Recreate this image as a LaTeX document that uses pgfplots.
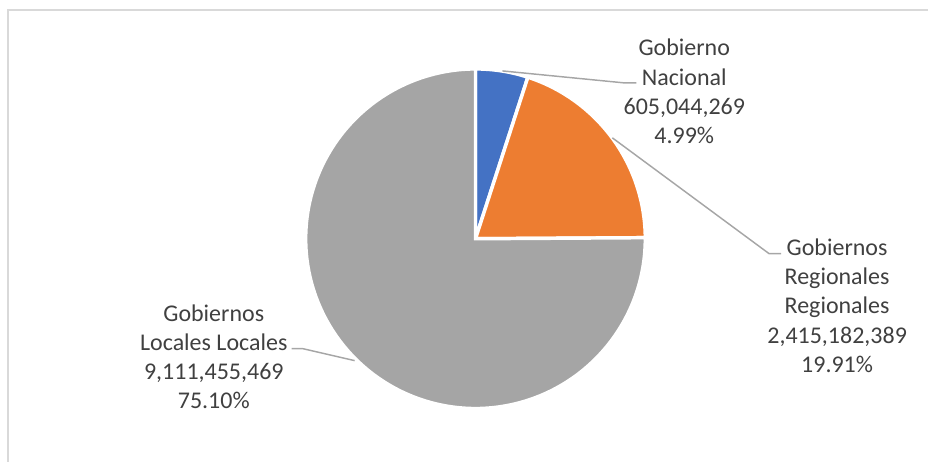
\documentclass[border=0pt]{standalone}
\usepackage{pgfplots}
\usepackage{pgfplotstable}
\pgfplotsset{compat=1.18}
\usepackage{fontspec}
\setmainfont{Carlito}
\definecolor{cBlue}{HTML}{4472C4}
\definecolor{cOrange}{HTML}{ED7D31}
\definecolor{cGray}{HTML}{A5A5A5}
\definecolor{cText}{HTML}{404040}
\definecolor{cLeader}{HTML}{A6A6A6}
\definecolor{cFrame}{HTML}{D9D9D9}
\pgfplotstableread{
name pct value
Nacional 4.99 605044269
Regionales 19.91 2415182389
Locales 75.10 9111455469
}\piedata
\pgfplotstablegetelem{0}{pct}\of\piedata
\pgfmathsetmacro{\aB}{90-3.6*\pgfplotsretval}
\pgfplotstablegetelem{1}{pct}\of\piedata
\pgfmathsetmacro{\aC}{\aB-3.6*\pgfplotsretval}
\pgfplotstablegetelem{2}{pct}\of\piedata
\pgfmathsetmacro{\aD}{\aC-3.6*\pgfplotsretval}
\begin{document}%
\begin{tikzpicture}
\begin{axis}[
  x=0.75pt, y=0.75pt,
  xmin=0, xmax=929, ymin=0, ymax=462,
  scale only axis, hide axis, clip=false,
]
% page extent
\path (0,0) rectangle (929,462);
% frame
\draw[cFrame, line width=1.5pt] (8.5,0) -- (8.5,451.5) -- (929,451.5);
% wedges
\addplot[fill=cBlue, draw=white, line width=2.6pt, domain=\aB:90, samples=30, variable=\t]
  ({476+170*cos(\t)},{223+170*sin(\t)}) -- (476,223) -- cycle;
\addplot[fill=cOrange, draw=white, line width=2.6pt, domain=\aC:\aB, samples=60, variable=\t]
  ({476+170*cos(\t)},{223+170*sin(\t)}) -- (476,223) -- cycle;
\addplot[fill=cGray, draw=white, line width=2.6pt, domain=\aD:\aC, samples=180, variable=\t]
  ({476+170*cos(\t)},{223+170*sin(\t)}) -- (476,223) -- cycle;
% leader lines
\draw[cLeader, line width=1.1pt] (503,391) -- (625,379) -- (637,379);
\draw[cLeader, line width=1.1pt] (613,324) -- (770,208) -- (782,208);
\draw[cLeader, line width=1.1pt] (292,113) -- (303,113) -- (355,101);
% labels
\node[align=center, text=cText, font=\fontsize{18}{21.9}\selectfont] at (685,370.5)
  {Gobierno\\Nacional\\605,044,269\\4.99\%};
\node[align=center, text=cText, font=\fontsize{18}{21.9}\selectfont] at (838,156)
  {Gobiernos\\Regionales\\Regionales\\2,415,182,389\\19.91\%};
\node[align=center, text=cText, font=\fontsize{18}{21.9}\selectfont] at (214,105)
  {Gobiernos\\Locales Locales\\9,111,455,469\\75.10\%};
\end{axis}
\end{tikzpicture}%
\end{document}
